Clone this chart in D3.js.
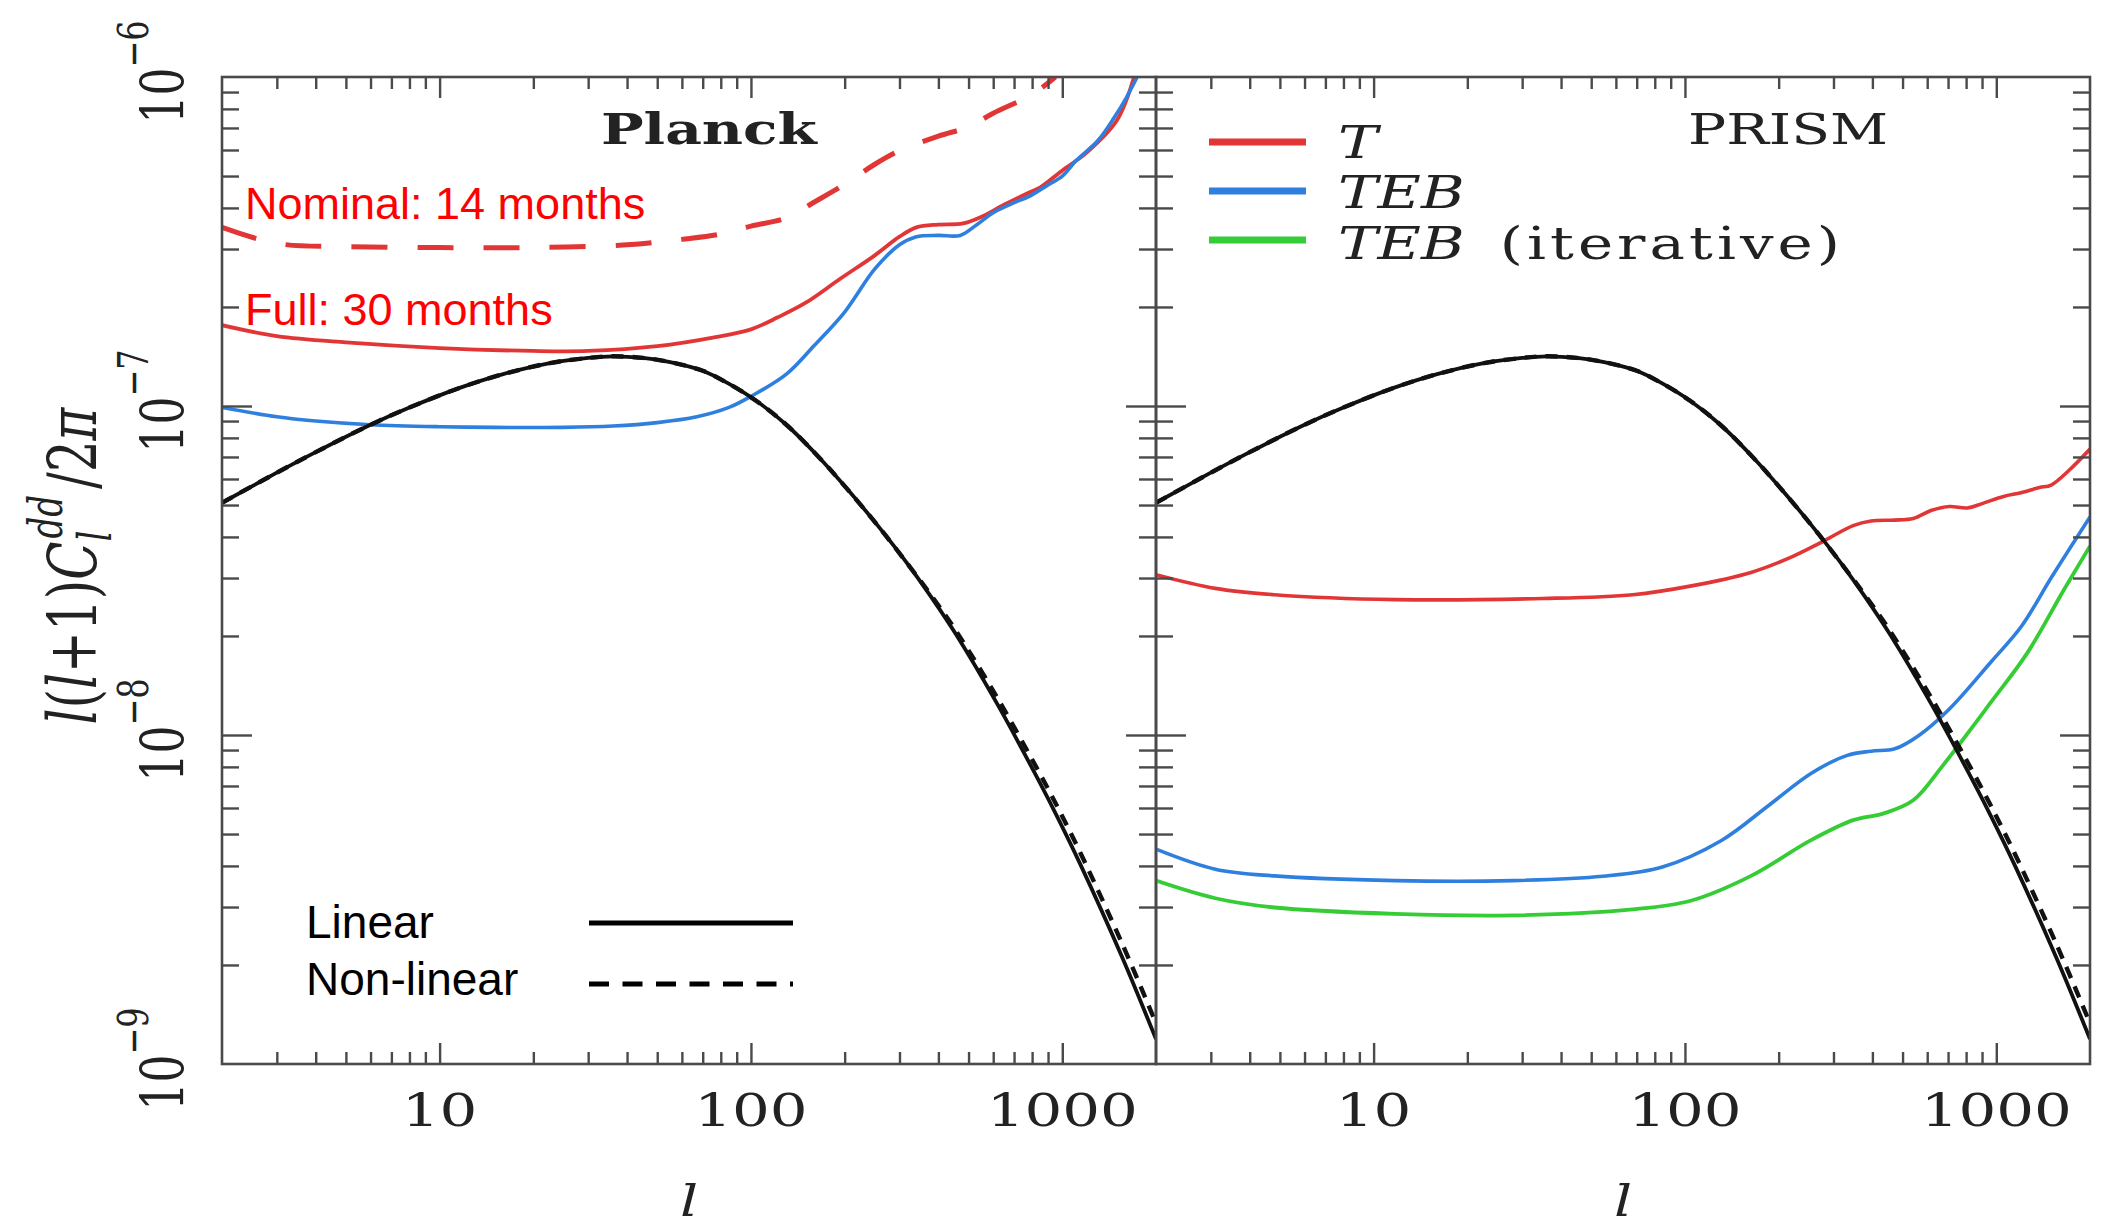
<!DOCTYPE html>
<html>
<head>
<meta charset="utf-8">
<script src="https://cdn.jsdelivr.net/npm/d3@7"></script>
<style>
  html, body { margin: 0; padding: 0; background: #fff; }
  svg { display: block; }
</style>
</head>
<body>
<svg id="chart" width="2107" height="1228"></svg>
<script>
// ---------------------------------------------------------------
// Lensing deflection power spectrum and reconstruction noise
// ---------------------------------------------------------------

// Axis ranges and tick labels
const ellDomain = [2, 2000];
const powerDomain = [1e-9, 1e-6];
const xMajorTicks = [10, 100, 1000];
const xTickLabels = ["10", "100", "1000"];
const yDecades = [-9, -8, -7, -6];
const panelTitles = ["Planck", "PRISM"];

// Theory spectrum l(l+1)C_l^dd/2pi (shown in both panels)
const theoryEll = [2, 3, 4, 6, 8, 11.6, 16, 22.6, 30, 36, 45, 55, 70, 84, 105, 131, 165, 200, 254, 318, 380, 456, 622, 842, 963, 1145, 1561, 2000];
const theoryLinear = [5.08e-8, 6.27e-8, 7.24e-8, 8.77e-8, 9.89e-8, 1.135e-7, 1.25e-7, 1.35e-7, 1.4e-7, 1.416e-7, 1.4e-7, 1.36e-7, 1.28e-7, 1.175e-7, 1.03e-7, 8.71e-8, 7.0e-8, 5.71e-8, 4.36e-8, 3.32e-8, 2.62e-8, 2.02e-8, 1.23e-8, 7.24e-9, 5.65e-9, 4.03e-9, 2.1e-9, 1.19e-9];
const theoryNonLinear = [5.08e-8, 6.27e-8, 7.24e-8, 8.77e-8, 9.89e-8, 1.135e-7, 1.25e-7, 1.35e-7, 1.4e-7, 1.416e-7, 1.4e-7, 1.36e-7, 1.28e-7, 1.175e-7, 1.03e-7, 8.71e-8, 7.0e-8, 5.71e-8, 4.36e-8, 3.32e-8, 2.65e-8, 2.07e-8, 1.285e-8, 7.71e-9, 6.07e-9, 4.37e-9, 2.31e-9, 1.33e-9];

// Planck, temperature-only noise, full mission (30 months)
const planckTFullEll = [2, 3, 5, 10, 20, 30, 50, 77, 100, 122, 150, 194, 250, 300, 340, 400, 480, 550, 650, 780, 850, 1000, 1200, 1500, 1700];
const planckTFull = [1.76e-7, 1.63e-7, 1.56e-7, 1.5e-7, 1.47e-7, 1.47e-7, 1.52e-7, 1.62e-7, 1.71e-7, 1.86e-7, 2.06e-7, 2.44e-7, 2.87e-7, 3.27e-7, 3.49e-7, 3.56e-7, 3.59e-7, 3.76e-7, 4.09e-7, 4.45e-7, 4.62e-7, 5.2e-7, 5.9e-7, 7.4e-7, 1.0e-6];

// Planck, temperature-only noise, nominal mission (14 months)
const planckTNomEll = [2, 3, 5, 10, 20, 40, 60, 80, 100, 130, 160, 200, 250, 300, 400, 500, 600, 800, 950];
const planckTNom = [3.49e-7, 3.12e-7, 3.05e-7, 3.03e-7, 3.03e-7, 3.09e-7, 3.21e-7, 3.33e-7, 3.52e-7, 3.73e-7, 4.17e-7, 4.72e-7, 5.43e-7, 5.97e-7, 6.61e-7, 7.06e-7, 7.76e-7, 8.85e-7, 1.0e-6];

// Planck, TEB combined noise
const planckTEBEll = [2, 3, 4, 6, 10, 15, 25, 36, 50, 67, 85, 100, 130, 160, 200, 250, 300, 340, 400, 470, 530, 600, 700, 780, 900, 1000, 1110, 1300, 1470, 1600, 1740];
const planckTEB = [9.9e-8, 9.27e-8, 9.0e-8, 8.77e-8, 8.65e-8, 8.61e-8, 8.61e-8, 8.69e-8, 8.9e-8, 9.27e-8, 9.9e-8, 1.07e-7, 1.25e-7, 1.53e-7, 1.93e-7, 2.61e-7, 3.09e-7, 3.27e-7, 3.3e-7, 3.3e-7, 3.55e-7, 3.87e-7, 4.15e-7, 4.33e-7, 4.7e-7, 5.0e-7, 5.58e-7, 6.4e-7, 7.54e-7, 8.6e-7, 1.0e-6];

// PRISM, temperature-only noise
const prismTEll = [2, 3.1, 4.8, 11.7, 35, 68, 105, 163, 213, 278, 347, 396, 470, 541, 620, 707, 807, 900, 1055, 1200, 1376, 1500, 1720, 2000];
const prismT = [3.07e-8, 2.79e-8, 2.67e-8, 2.58e-8, 2.6e-8, 2.67e-8, 2.84e-8, 3.12e-8, 3.43e-8, 3.88e-8, 4.33e-8, 4.47e-8, 4.5e-8, 4.55e-8, 4.82e-8, 4.95e-8, 4.9e-8, 5.05e-8, 5.31e-8, 5.45e-8, 5.65e-8, 5.75e-8, 6.4e-8, 7.4e-8];

// PRISM, TEB combined noise
const prismTEBEll = [2, 3.1, 4.8, 11.7, 28, 54.5, 84.6, 131, 187, 254, 332, 396, 472, 564, 707, 963, 1205, 1506, 2000];
const prismTEB = [4.5e-9, 3.91e-9, 3.73e-9, 3.61e-9, 3.61e-9, 3.72e-9, 3.97e-9, 4.78e-9, 6.14e-9, 7.64e-9, 8.67e-9, 8.93e-9, 9.08e-9, 9.97e-9, 1.2e-8, 1.67e-8, 2.14e-8, 3.02e-8, 4.6e-8];

// PRISM, TEB combined noise with iterative delensing
const prismIterEll = [2, 3.1, 4.8, 11.7, 28, 67.8, 105, 163, 254, 347, 433, 541, 677, 963, 1260, 1644, 2000];
const prismIter = [3.61e-9, 3.19e-9, 2.99e-9, 2.86e-9, 2.83e-9, 2.95e-9, 3.14e-9, 3.73e-9, 4.79e-9, 5.51e-9, 5.77e-9, 6.33e-9, 8.13e-9, 1.26e-8, 1.78e-8, 2.75e-8, 3.75e-8];

// Legend entries
const prismLegendLabels = ["T", "TEB", "TEB"];
const styleLegendLabels = ["Linear", "Non-linear"];
const missionLabels = ["Nominal: 14 months", "Full: 30 months"];

// ---------------------------------------------------------------
const zip = (xs, ys) => xs.map((v, i) => [v, ys[i]]);

const RED = "#e23636", BLUE = "#2f7fdf", GREEN = "#35cc35", BLACK = "#111";
const FRAME = "#4a4a4a";
const SERIF = "'DejaVu Serif', serif";
const SANS = "'Liberation Sans', Arial, sans-serif";
const STRETCH = 1.35; // horizontal widening of the plot lettering

const plotTop = 77, plotBottom = 1064;
const panels = [
  { x0: 222, x1: 1156 },
  { x0: 1156, x1: 2090 }
];

const svg = d3.select("#chart");
svg.append("rect").attr("width", 2107).attr("height", 1228).attr("fill", "#fff");
const defs = svg.append("defs");

const y = d3.scaleLog().domain(powerDomain).range([plotBottom, plotTop]);
const isDecade = v => Math.abs(Math.log10(v) - Math.round(Math.log10(v))) < 1e-6;

const seriesByPanel = [
  [
    { data: zip(planckTNomEll, planckTNom), color: RED, width: 5, dash: "36,30" },
    { data: zip(planckTFullEll, planckTFull), color: RED, width: 3.8 },
    { data: zip(planckTEBEll, planckTEB), color: BLUE, width: 3.6 },
    { data: zip(theoryEll, theoryLinear), color: BLACK, width: 3.8 },
    { data: zip(theoryEll, theoryNonLinear), color: BLACK, width: 4.4, dash: "12,9" }
  ],
  [
    { data: zip(prismTEll, prismT), color: RED, width: 3.6 },
    { data: zip(prismTEBEll, prismTEB), color: BLUE, width: 3.6 },
    { data: zip(prismIterEll, prismIter), color: GREEN, width: 3.8 },
    { data: zip(theoryEll, theoryLinear), color: BLACK, width: 3.8 },
    { data: zip(theoryEll, theoryNonLinear), color: BLACK, width: 4.4, dash: "12,9" }
  ]
];

panels.forEach((p, i) => {
  const x = d3.scaleLog().domain(ellDomain).range([p.x0, p.x1]);
  const g = svg.append("g");

  // clip region for the curves
  const clipId = "clip" + i;
  defs.append("clipPath").attr("id", clipId)
    .append("rect").attr("x", p.x0).attr("y", plotTop)
    .attr("width", p.x1 - p.x0).attr("height", plotBottom - plotTop);

  // curves
  const line = d3.line()
    .x(d => x(d[0])).y(d => y(d[1]))
    .curve(d3.curveCatmullRom.alpha(0.5));
  const curves = g.append("g").attr("clip-path", `url(#${clipId})`);
  seriesByPanel[i].forEach(s => {
    curves.append("path")
      .attr("d", line(s.data))
      .attr("fill", "none")
      .attr("stroke", s.color)
      .attr("stroke-width", s.width)
      .attr("stroke-linejoin", "round")
      .attr("stroke-dasharray", s.dash || null);
  });

  // ticks via d3 axes (inward-pointing)
  const xt = x.ticks().filter(t => t > ellDomain[0] && t < ellDomain[1]);
  const xMinor = xt.filter(t => !isDecade(t));
  const yt = y.ticks().filter(t => t > powerDomain[0] * 1.0001 && t < powerDomain[1] * 0.9999);
  const yMajor = yt.filter(isDecade);
  const yMinor = yt.filter(t => !isDecade(t));

  const axes = g.append("g").attr("class", "axes");
  const addAxis = (gen, tr) => {
    const a = axes.append("g").attr("transform", tr).call(gen);
    a.select(".domain").remove();
    a.selectAll("line").attr("stroke", FRAME).attr("stroke-width", 2.4);
    a.selectAll("text").remove();
  };
  addAxis(d3.axisBottom(x).tickValues(xMinor).tickSize(-12).tickSizeOuter(0), `translate(0,${plotBottom})`);
  addAxis(d3.axisBottom(x).tickValues(xMajorTicks).tickSize(-21).tickSizeOuter(0), `translate(0,${plotBottom})`);
  addAxis(d3.axisTop(x).tickValues(xMinor).tickSize(-12).tickSizeOuter(0), `translate(0,${plotTop})`);
  addAxis(d3.axisTop(x).tickValues(xMajorTicks).tickSize(-21).tickSizeOuter(0), `translate(0,${plotTop})`);
  addAxis(d3.axisLeft(y).tickValues(yMinor).tickSize(-17).tickSizeOuter(0), `translate(${p.x0},0)`);
  addAxis(d3.axisLeft(y).tickValues(yMajor).tickSize(-30).tickSizeOuter(0), `translate(${p.x0},0)`);
  addAxis(d3.axisRight(y).tickValues(yMinor).tickSize(-17).tickSizeOuter(0), `translate(${p.x1},0)`);
  addAxis(d3.axisRight(y).tickValues(yMajor).tickSize(-30).tickSizeOuter(0), `translate(${p.x1},0)`);

  // frame
  g.append("rect")
    .attr("x", p.x0).attr("y", plotTop)
    .attr("width", p.x1 - p.x0).attr("height", plotBottom - plotTop)
    .attr("fill", "none").attr("stroke", FRAME).attr("stroke-width", 2.6);

  // x tick labels
  xMajorTicks.forEach((t, k) => {
    g.append("text")
      .attr("transform", `translate(${x(t)},1126) scale(${STRETCH},1)`)
      .attr("text-anchor", "middle")
      .attr("font-family", SERIF).attr("font-size", 44).attr("fill", "#222")
      .text(xTickLabels[k]);
  });

  // x axis title
  g.append("text")
    .attr("transform", `translate(${(p.x0 + p.x1) / 2},1216) scale(${STRETCH},1)`)
    .attr("text-anchor", "middle")
    .attr("font-family", SERIF).attr("font-style", "italic")
    .attr("font-size", 42).attr("fill", "#222")
    .text("l");
});

// panel titles
svg.append("text")
  .attr("transform", `translate(601,144) scale(${STRETCH},1)`)
  .attr("font-family", SERIF).attr("font-weight", "bold")
  .attr("font-size", 42).attr("fill", "#222")
  .text(panelTitles[0]);
svg.append("text")
  .attr("transform", `translate(1688,144) scale(${STRETCH},1)`)
  .attr("font-family", SERIF)
  .attr("font-size", 42).attr("fill", "#222")
  .text(panelTitles[1]);

// y tick labels (rotated powers of ten)
yDecades.forEach(e => {
  const t = svg.append("text")
    .attr("transform", `translate(184,${y(Math.pow(10, e)) - 5}) scale(${STRETCH},1) rotate(-90)`)
    .attr("text-anchor", "middle")
    .attr("font-family", SERIF).attr("fill", "#222");
  t.append("tspan").attr("font-size", 44).text("10");
  t.append("tspan").attr("font-size", 32).attr("dy", -27).text("\u2212" + Math.abs(e));
});

// y axis title: l(l+1) C_l^dd / 2pi
{
  const t = svg.append("text")
    .attr("transform", `translate(96,566) scale(${STRETCH},1) rotate(-90)`)
    .attr("text-anchor", "middle")
    .attr("font-family", SERIF).attr("font-size", 50).attr("fill", "#222");
  t.append("tspan").attr("font-style", "italic").text("l");
  t.append("tspan").text("(");
  t.append("tspan").attr("font-style", "italic").text("l");
  t.append("tspan").text("+1)");
  t.append("tspan").attr("font-style", "italic").text("C");
  t.append("tspan").attr("font-style", "italic").attr("font-size", 34).attr("dy", 11).text("l");
  t.append("tspan").attr("font-style", "italic").attr("font-size", 34).attr("dx", -8).attr("dy", -36).text("dd");
  t.append("tspan").attr("dy", 25).attr("dx", 6).text("/2");
  t.append("tspan").attr("font-style", "italic").text("\u03c0");
}

// PRISM legend
const legendColors = [RED, BLUE, GREEN];
const legendLineY = [142, 191, 240];
const legendTextY = [158, 208, 259];
prismLegendLabels.forEach((lab, k) => {
  svg.append("line")
    .attr("x1", 1209).attr("x2", 1306)
    .attr("y1", legendLineY[k]).attr("y2", legendLineY[k])
    .attr("stroke", legendColors[k]).attr("stroke-width", 7);
  const t = svg.append("text")
    .attr("transform", `translate(1338,${legendTextY[k]}) scale(${STRETCH},1)`)
    .attr("font-family", SERIF).attr("font-size", 44).attr("fill", "#222");
  t.append("tspan").attr("font-style", "italic").text(lab);
  if (k === 2) {
    t.append("tspan").attr("dx", 26).attr("letter-spacing", 3).text("(iterative)");
  }
});

// mission annotations
[[219, missionLabels[0]], [325, missionLabels[1]]].forEach(([yy, lab]) => {
  svg.append("text")
    .attr("x", 245).attr("y", yy)
    .attr("font-family", SANS).attr("font-size", 45).attr("fill", "#ff0000")
    .text(lab);
});

// line-style legend
styleLegendLabels.forEach((lab, k) => {
  svg.append("text")
    .attr("x", 306).attr("y", [938, 995][k])
    .attr("font-family", SANS).attr("font-size", 46).attr("fill", "#000")
    .text(lab);
  svg.append("line")
    .attr("x1", 589).attr("x2", 793)
    .attr("y1", [923, 984][k]).attr("y2", [923, 984][k])
    .attr("stroke", "#000").attr("stroke-width", 5)
    .attr("stroke-dasharray", k === 1 ? "20,13.5" : null);
});
</script>
</body>
</html>
